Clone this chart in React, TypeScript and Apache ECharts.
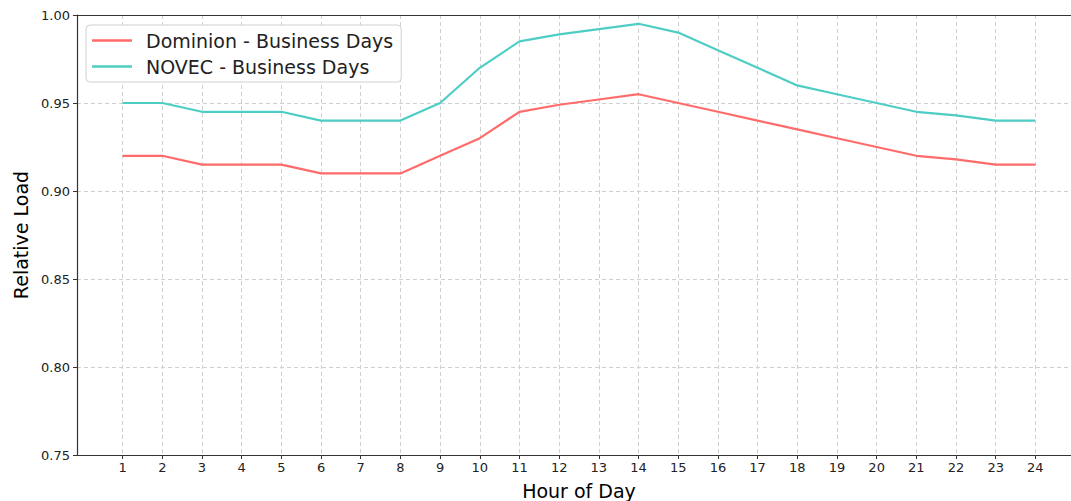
import React, { useEffect, useRef } from "react";
import * as echarts from "echarts";

const hours = [1, 2, 3, 4, 5, 6, 7, 8, 9, 10, 11, 12, 13, 14, 15, 16, 17, 18, 19, 20, 21, 22, 23, 24];
const dominion = [0.92, 0.92, 0.915, 0.915, 0.915, 0.91, 0.91, 0.91, 0.92, 0.93, 0.945, 0.949, 0.952, 0.955, 0.95, 0.945, 0.94, 0.935, 0.93, 0.925, 0.92, 0.918, 0.915, 0.915];
const novec = [0.95, 0.95, 0.945, 0.945, 0.945, 0.94, 0.94, 0.94, 0.95, 0.97, 0.985, 0.989, 0.992, 0.995, 0.99, 0.98, 0.97, 0.96, 0.955, 0.95, 0.945, 0.943, 0.94, 0.94];
const seriesNames = ["Dominion - Business Days", "NOVEC - Business Days"];
const colors = ["#FF6B6B", "#4ECDC4"];

const FONT = "DejaVu Sans";

export default function App() {
  const ref = useRef<HTMLDivElement>(null);
  useEffect(() => {
    if (!ref.current) return;
    const chart = echarts.init(ref.current, undefined, { renderer: "svg" });
    chart.setOption({
      animation: false,
      textStyle: { fontFamily: FONT },
      grid: {
        left: 77,
        right: -10,
        top: 15,
        bottom: 46,
        outerBoundsMode: "none",
        containLabel: false,
        show: false,
      },
      legend: {
        orient: "vertical",
        left: 86,
        top: 25,
        icon: "rect",
        itemWidth: 40,
        itemHeight: 2.5,
        itemGap: 7,
        padding: [6, 8, 6, 6],
        backgroundColor: "#fff",
        borderColor: "#d0d0d0",
        borderWidth: 1,
        borderRadius: 4,
        textStyle: { fontFamily: FONT, fontSize: 19, color: "#222", padding: [0, 0, 0, 9] },
        data: seriesNames,
      },
      xAxis: [
        {
          type: "value",
          min: -0.15,
          max: 25.15,
          name: "Hour of Day",
          nameLocation: "middle",
          nameGap: 26,
          nameTextStyle: { fontFamily: FONT, fontSize: 19, color: "#000" },
          axisLine: { show: true, onZero: false, lineStyle: { color: "#333", width: 1.2 } },
          axisTick: { show: true, length: 4, customValues: hours, lineStyle: { color: "#333" } },
          axisLabel: { customValues: hours, fontFamily: FONT, fontSize: 13, color: "#222", margin: 6 },
          splitLine: { show: true, lineStyle: { color: "#cfcfcf", type: [4, 3], width: 1 } },
        },
        {
          type: "value",
          position: "top",
          min: -0.15,
          max: 25.15,
          axisLine: { show: true, onZero: false, lineStyle: { color: "#333", width: 1.2 } },
          axisTick: { show: false },
          axisLabel: { show: false },
          splitLine: { show: false },
        },
      ],
      yAxis: {
        type: "value",
        min: 0.75,
        max: 1.0,
        interval: 0.05,
        name: "Relative Load",
        nameLocation: "middle",
        nameGap: 46,
        nameTextStyle: { fontFamily: FONT, fontSize: 19, color: "#000" },
        axisLine: { show: true, onZero: false, lineStyle: { color: "#333", width: 1.2 } },
        axisTick: { show: true, length: 4, lineStyle: { color: "#333" } },
        axisLabel: { fontFamily: FONT, fontSize: 13, color: "#222", margin: 7, formatter: (v: number) => v.toFixed(2) },
        splitLine: { show: true, lineStyle: { color: "#cfcfcf", type: [4, 3], width: 1 } },
      },
      series: [
        {
          name: seriesNames[0],
          type: "line",
          xAxisIndex: 0,
          data: hours.map((h, i) => [h, dominion[i]]),
          showSymbol: false,
          symbol: "none",
          color: colors[0],
          lineStyle: { width: 2.2, color: colors[0] },
        },
        {
          name: seriesNames[1],
          type: "line",
          xAxisIndex: 0,
          data: hours.map((h, i) => [h, novec[i]]),
          showSymbol: false,
          symbol: "none",
          color: colors[1],
          lineStyle: { width: 2.2, color: colors[1] },
        },
      ],
    });
    return () => chart.dispose();
  }, []);
  return (
    <div
      ref={ref}
      style={{ position: "fixed", left: 0, top: 0, width: 1071, height: 501, background: "#fff" }}
    />
  );
}
